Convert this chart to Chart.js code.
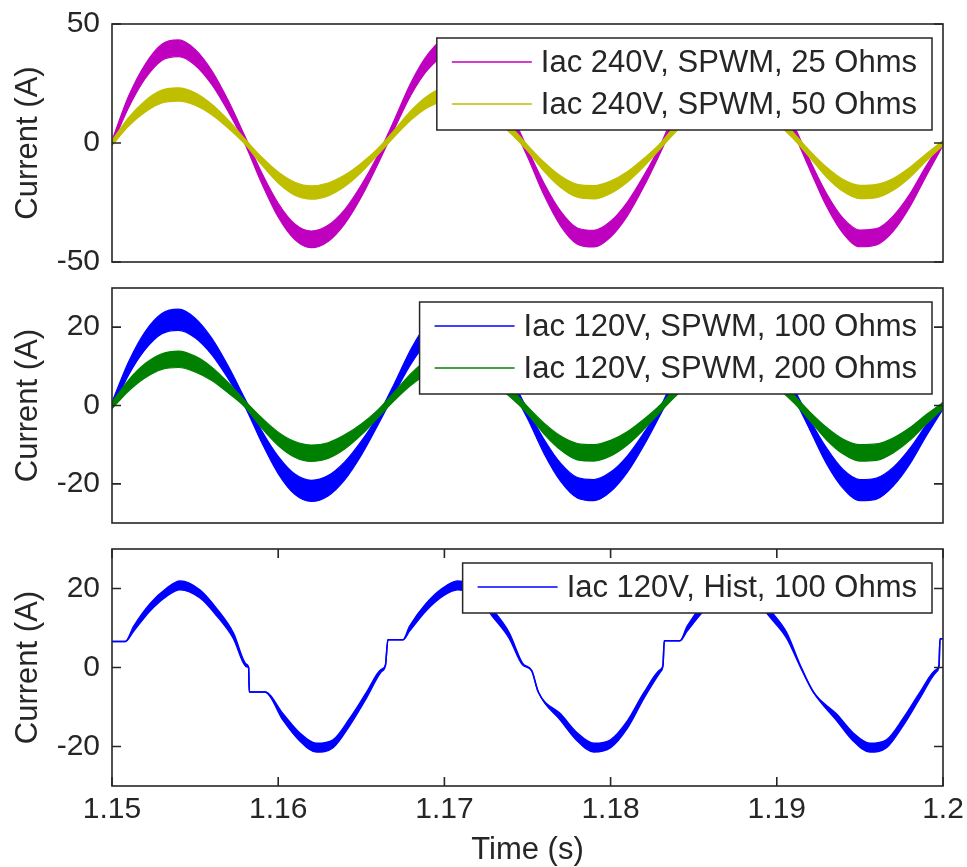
<!DOCTYPE html>
<html>
<head>
<meta charset="utf-8">
<script src="https://cdn.jsdelivr.net/npm/chart.js@4.4.1/dist/chart.umd.min.js"></script>
<style>
  body { margin: 0; background: #fff; }
  #wrap { position: relative; width: 967px; height: 867px; }
  canvas { position: absolute; left: 0; }
</style>
</head>
<body>
<div id="wrap">
  <canvas id="plotTop" width="967" height="280" style="top:0"></canvas>
  <canvas id="plotMid" width="967" height="270" style="top:270px"></canvas>
  <canvas id="plotBot" width="967" height="337" style="top:530px"></canvas>
</div>
<script>
// sample instants (s) for the SPWM traces
const timeS = [1.150, 1.151, 1.152, 1.153, 1.154, 1.155, 1.156, 1.157, 1.158, 1.159,
  1.160, 1.161, 1.162, 1.163, 1.164, 1.165, 1.166, 1.167, 1.168, 1.169,
  1.170, 1.171, 1.172, 1.173, 1.174, 1.175, 1.176, 1.177, 1.178, 1.179,
  1.180, 1.181, 1.182, 1.183, 1.184, 1.185, 1.186, 1.187, 1.188, 1.189,
  1.190, 1.191, 1.192, 1.193, 1.194, 1.195, 1.196, 1.197, 1.198, 1.199, 1.200];

// 240V SPWM, 25 Ohms: mean current and switching ripple (A)
const iac240r25 = [0, 17.3, 30.1, 38.1, 39.8, 36.0, 27.5, 15.4, 1.2, -14.6,
  -28.2, -37.3, -40.5, -38.0, -31.0, -20.2, -7.0, 8.0, 22.9, 34.0,
  39.6, 39.2, 33.7, 23.8, 10.8, -4.1, -19.5, -31.8, -39.1, -40.2,
  -36.2, -27.8, -16.0, -2.4, 13.2, 27.0, 36.5, 40.0, 37.9, 30.9,
  19.8, 6.1, -9.4, -24.0, -34.9, -40.1, -39.4, -33.9, -24.2, -11.6, 0];
const ripple240r25 = [1.0, 2.4, 3.0, 3.4, 3.5, 3.3, 2.9, 2.3, 1.6, 2.2,
  2.9, 3.3, 3.5, 3.4, 3.0, 2.5, 1.8, 1.9, 2.6, 3.2,
  3.5, 3.5, 3.2, 2.7, 2.0, 1.7, 2.5, 3.1, 3.4, 3.5,
  3.3, 2.9, 2.3, 1.6, 2.2, 2.9, 3.3, 3.5, 3.4, 3.0,
  2.5, 1.8, 2.0, 2.7, 3.2, 3.5, 3.4, 3.2, 2.7, 2.1, 1.0];

// 240V SPWM, 50 Ohms
const iac240r50 = [0, 8.9, 15.4, 19.5, 20.4, 18.5, 14.1, 7.9, 0.6, -7.5,
  -14.5, -19.2, -20.8, -19.5, -15.9, -10.4, -3.6, 4.1, 11.7, 17.4,
  20.3, 20.1, 17.3, 12.2, 5.5, -2.1, -10.0, -16.3, -20.1, -20.7,
  -18.6, -14.3, -8.2, -1.2, 6.8, 13.9, 18.7, 20.5, 19.4, 15.8,
  10.2, 3.1, -4.8, -12.3, -17.9, -20.6, -20.2, -17.4, -12.4, -6.0, 0];
const ripple240r50 = [1.0, 1.8, 2.4, 2.7, 2.8, 2.6, 2.2, 1.7, 1.1, 1.6,
  2.3, 2.7, 2.8, 2.7, 2.4, 1.9, 1.3, 1.4, 2.0, 2.5,
  2.8, 2.8, 2.5, 2.1, 1.5, 1.2, 1.9, 2.4, 2.7, 2.8,
  2.6, 2.2, 1.7, 1.1, 1.6, 2.2, 2.6, 2.8, 2.7, 2.4,
  1.9, 1.3, 1.4, 2.1, 2.5, 2.8, 2.8, 2.5, 2.1, 1.5, 1.0];

// 120V SPWM, 100 Ohms
const iac120r100 = [0, 9.5, 16.6, 20.9, 21.9, 19.8, 15.1, 8.4, 0.7, -7.9,
  -15.2, -20.1, -21.8, -20.5, -16.7, -10.9, -3.8, 4.4, 12.6, 18.7,
  21.8, 21.5, 18.5, 13.1, 5.9, -2.2, -10.5, -17.1, -21.0, -21.6,
  -19.5, -15.0, -8.6, -1.3, 7.3, 14.9, 20.1, 22.0, 20.9, 17.0,
  10.9, 3.4, -5.0, -12.9, -18.8, -21.6, -21.2, -18.2, -13.0, -6.3, 0];
const ripple120r100 = [0.9, 1.7, 2.3, 2.6, 2.7, 2.5, 2.1, 1.6, 1.0, 1.5,
  2.2, 2.6, 2.7, 2.6, 2.3, 1.8, 1.2, 1.3, 1.9, 2.4,
  2.7, 2.7, 2.4, 2.0, 1.4, 1.1, 1.8, 2.3, 2.6, 2.7,
  2.5, 2.1, 1.6, 1.0, 1.5, 2.1, 2.5, 2.7, 2.6, 2.3,
  1.8, 1.2, 1.3, 2.0, 2.4, 2.7, 2.7, 2.4, 2.0, 1.4, 0.9];

// 120V SPWM, 200 Ohms
const iac120r200 = [0, 5.1, 8.9, 11.2, 11.8, 10.6, 8.1, 4.5, 0.4, -4.4,
  -8.5, -11.2, -12.2, -11.5, -9.3, -6.1, -2.1, 2.4, 6.7, 10.0,
  11.7, 11.6, 9.9, 7.0, 3.2, -1.2, -5.9, -9.6, -11.8, -12.1,
  -10.9, -8.4, -4.8, -0.7, 3.9, 8.0, 10.8, 11.8, 11.2, 9.1,
  5.9, 1.8, -2.8, -7.2, -10.5, -12.1, -11.9, -10.2, -7.3, -3.5, 0];
const ripple120r200 = [0.8, 1.4, 1.8, 2.0, 2.1, 2.0, 1.7, 1.3, 0.8, 1.3,
  1.7, 2.0, 2.1, 2.0, 1.8, 1.4, 1.0, 1.1, 1.5, 1.9,
  2.1, 2.1, 1.9, 1.6, 1.2, 0.9, 1.4, 1.8, 2.1, 2.1,
  2.0, 1.7, 1.3, 0.9, 1.2, 1.7, 2.0, 2.1, 2.0, 1.8,
  1.4, 1.0, 1.1, 1.6, 1.9, 2.1, 2.1, 1.9, 1.6, 1.2, 0.8];

// 120V hysteresis, 100 Ohms (uneven sampling to keep the steps near zero)
const histTime = [1.1500, 1.1508, 1.1513, 1.1523, 1.1533, 1.1541, 1.1553, 1.1563, 1.1573, 1.1581,
  1.15822, 1.15826, 1.1592, 1.1603, 1.1613, 1.1623, 1.1633, 1.1643, 1.1653, 1.1662,
  1.16645, 1.1666, 1.1675, 1.1679, 1.1689, 1.1699, 1.1708, 1.1720, 1.1729, 1.1739,
  1.1747, 1.17525, 1.17565, 1.1770, 1.1780, 1.1790, 1.1800, 1.1810, 1.1820, 1.1830,
  1.18315, 1.18323, 1.18418, 1.1846, 1.1856, 1.1866, 1.1874, 1.1886, 1.1896, 1.1906,
  1.1914, 1.1922, 1.1936, 1.1946, 1.1956, 1.1966, 1.1976, 1.1986, 1.1996, 1.19976,
  1.19982, 1.2000];
const iacHist = [6.6, 6.6, 9.8, 15.3, 19.1, 20.8, 18.6, 14.0, 8.1, 0.5,
  0.0, -6.2, -6.2, -12.6, -17.6, -20.3, -19.3, -13.8, -7.1, -0.8,
  0.5, 7.0, 7.0, 9.8, 15.3, 19.1, 20.8, 18.6, 13.8, 8.1,
  0.9, -0.8, -6.2, -12.6, -17.6, -20.3, -19.3, -14.5, -7.1, -0.8,
  0.5, 6.8, 6.8, 9.8, 15.3, 19.1, 20.8, 18.6, 13.6, 8.1,
  0.5, -6.2, -12.6, -17.6, -20.3, -19.3, -13.8, -7.1, -0.8, 0.5,
  7.3, 7.3];
const rippleHist = [0, 0, 0.6, 0.9, 1.0, 1.1, 1.0, 0.9, 0.7, 0.3,
  0, 0, 0, 0.8, 1.0, 1.1, 1.0, 0.9, 0.7, 0.3,
  0, 0, 0, 0.6, 0.9, 1.0, 1.1, 1.0, 0.9, 0.7,
  0.2, 0, 0, 0.8, 1.0, 1.1, 1.0, 0.9, 0.7, 0.3,
  0, 0, 0, 0.6, 0.9, 1.0, 1.1, 1.0, 0.9, 0.7,
  0.2, 0, 0.8, 1.0, 1.1, 1.0, 0.9, 0.7, 0.3, 0,
  0, 0];

const timeTicks = [1.15, 1.16, 1.17, 1.18, 1.19, 1.2];
const ticksTop = [-50, 0, 50];
const ticksLow = [-20, 0, 20];

const FONT = '"Liberation Sans", Arial, Helvetica, sans-serif';
const INK = '#262626';

// a noisy trace is drawn as a filled band between its upper and lower ripple edge
function band(label, color, xs, mean, ripple, order, width) {
  const hi = xs.map((x, i) => ({ x: x, y: mean[i] + ripple[i] }));
  const lo = xs.map((x, i) => ({ x: x, y: mean[i] - ripple[i] }));
  const common = { borderColor: color, backgroundColor: color, borderWidth: width || 1.2,
    pointRadius: 0, cubicInterpolationMode: 'monotone', order: order };
  return [
    Object.assign({ label: label, data: hi, fill: false }, common),
    Object.assign({ label: '', data: lo, fill: '-1' }, common)
  ];
}

// legend box in the upper right corner of the axes
const boxLegend = {
  id: 'boxLegend',
  afterDatasetsDraw(chart) {
    const items = chart.data.datasets.filter(d => d.label);
    const { ctx, chartArea: a } = chart;
    ctx.save();
    ctx.font = '31px ' + FONT;
    const textW = Math.max(...items.map(d => ctx.measureText(d.label).width));
    const w = 15 + 80 + 9 + textW + 15;
    const h = 24 + (items.length - 1) * 42 + 26;
    const x0 = a.right - 11 - w, y0 = a.top + 14;
    ctx.fillStyle = '#fff';
    ctx.fillRect(x0, y0, w, h);
    ctx.strokeStyle = INK;
    ctx.lineWidth = 1.5;
    ctx.strokeRect(x0, y0, w, h);
    items.forEach((d, i) => {
      const y = y0 + 24 + i * 42;
      ctx.strokeStyle = d.borderColor;
      ctx.lineWidth = 1.5;
      ctx.beginPath();
      ctx.moveTo(x0 + 15, y);
      ctx.lineTo(x0 + 95, y);
      ctx.stroke();
      ctx.fillStyle = INK;
      ctx.textBaseline = 'middle';
      ctx.fillText(d.label, x0 + 104, y + 1);
    });
    ctx.restore();
  }
};

// box around the axes with inward tick marks on every side
const frameTicks = {
  id: 'frameTicks',
  afterDraw(chart, args, opts) {
    const { ctx, chartArea: a, scales } = chart;
    const len = 9;
    ctx.save();
    ctx.strokeStyle = INK;
    ctx.lineWidth = 1.6;
    ctx.beginPath();
    scales.y.ticks.forEach(t => {
      const y = scales.y.getPixelForValue(t.value);
      ctx.moveTo(a.left, y); ctx.lineTo(a.left + len, y);
      ctx.moveTo(a.right, y); ctx.lineTo(a.right - len, y);
    });
    if (opts.xTicks) {
      scales.x.ticks.forEach(t => {
        const x = scales.x.getPixelForValue(t.value);
        ctx.moveTo(x, a.bottom); ctx.lineTo(x, a.bottom - len);
        ctx.moveTo(x, a.top); ctx.lineTo(x, a.top + len);
      });
    }
    ctx.stroke();
    ctx.strokeRect(a.left, a.top, a.right - a.left, a.bottom - a.top);
    ctx.restore();
  }
};

function yAxis(min, max, ticks) {
  return {
    min: min, max: max,
    afterBuildTicks: s => { s.ticks = ticks.map(v => ({ value: v })); },
    afterFit: s => { s.width = 112; s.paddingTop = 0; s.paddingBottom = 0; },
    grid: { display: false, drawTicks: false },
    border: { display: false },
    ticks: { padding: 12, color: INK, font: { size: 30, family: FONT } },
    title: { display: true, text: 'Current (A)', color: INK,
      font: { size: 31, family: FONT }, padding: { top: 10, bottom: 0 } }
  };
}

function xAxis(shown) {
  const axis = {
    type: 'linear', min: 1.15, max: 1.2, display: shown,
    afterBuildTicks: s => { s.ticks = timeTicks.map(v => ({ value: v })); },
    grid: { display: false, drawTicks: false },
    border: { display: false }
  };
  if (shown) {
    axis.afterFit = s => { s.height = 81; s.paddingLeft = 0; s.paddingRight = 0; };
    axis.ticks = { padding: 6, maxRotation: 0, autoSkip: false, color: INK,
      font: { size: 30, family: FONT }, callback: v => String(+v.toFixed(2)) };
    axis.title = { display: true, text: 'Time (s)', color: INK,
      font: { size: 31, family: FONT }, padding: { top: 0, bottom: -2 } };
  }
  return axis;
}

function makeChart(id, datasets, yMin, yMax, yTicks, pad, showTime) {
  return new Chart(document.getElementById(id), {
    type: 'line',
    data: { datasets: datasets },
    options: {
      responsive: false,
      animation: false,
      events: [],
      layout: { padding: pad },
      scales: { x: xAxis(showTime), y: yAxis(yMin, yMax, yTicks) },
      plugins: {
        legend: { display: false },
        tooltip: { enabled: false },
        frameTicks: { xTicks: showTime }
      }
    },
    plugins: [boxLegend, frameTicks]
  });
}

makeChart('plotTop', [
  ...band('Iac 240V, SPWM, 25 Ohms', '#bf00bf', timeS, iac240r25, ripple240r25, 2),
  ...band('Iac 240V, SPWM, 50 Ohms', '#bfbf00', timeS, iac240r50, ripple240r50, 1)
], -50, 50, ticksTop, { top: 24, bottom: 18, left: 0, right: 24 }, false);

makeChart('plotMid', [
  ...band('Iac 120V, SPWM, 100 Ohms', '#0000ff', timeS, iac120r100, ripple120r100, 2),
  ...band('Iac 120V, SPWM, 200 Ohms', '#008000', timeS, iac120r200, ripple120r200, 1)
], -30, 30, ticksLow, { top: 18, bottom: 17, left: 0, right: 24 }, false);

makeChart('plotBot', [
  ...band('Iac 120V, Hist, 100 Ohms', '#0000ff', histTime, iacHist, rippleHist, 1, 1.5)
], -30, 30, ticksLow, { top: 19, bottom: 0, left: 0, right: 24 }, true);
</script>
</body>
</html>
